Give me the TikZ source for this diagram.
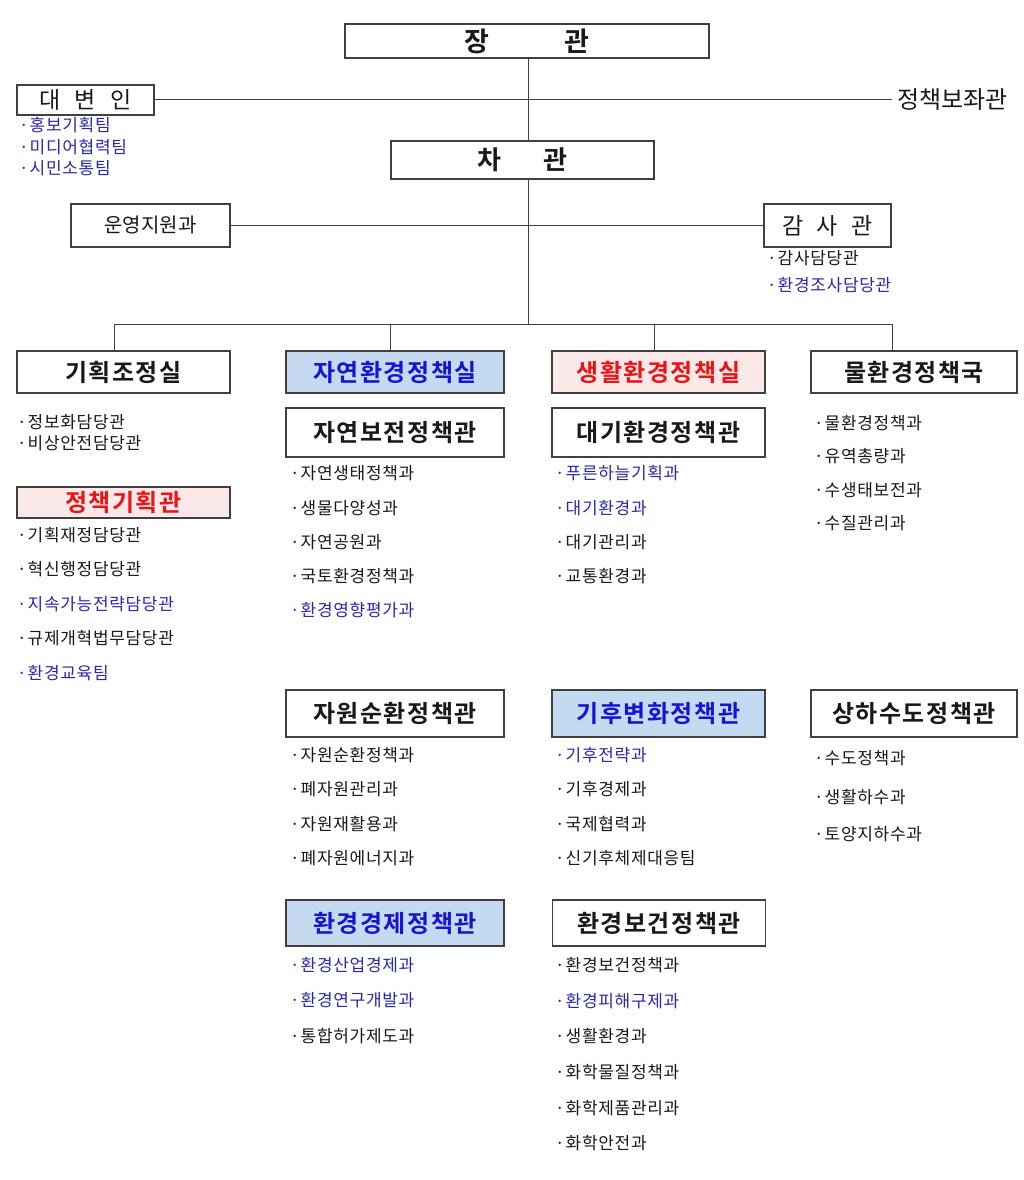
\documentclass[tikz,border=0pt]{standalone}
\usepackage{fontspec}
\setmainfont{Noto Sans CJK KR}[BoldFont={Noto Sans CJK KR Bold}]
\usepackage{tikz}
\definecolor{lineGray}{RGB}{64,64,64}
\definecolor{inkBlack}{RGB}{25,25,25}
\definecolor{titleBlue}{RGB}{20,20,210}
\definecolor{itemBlue}{RGB}{40,40,180}
\definecolor{titleRed}{RGB}{235,20,20}
\definecolor{fillBlue}{RGB}{197,217,241}
\definecolor{fillPink}{RGB}{251,232,232}
\tikzset{
  org box/.style={draw=lineGray,line width=1.2pt,fill=white,inner sep=0pt,text=inkBlack,font=\bfseries\fontsize{24}{26}\selectfont\addfontfeatures{LetterSpace=6}},
  org box blue/.style={org box,fill=fillBlue,text=titleBlue},
  org box red/.style={org box,fill=fillPink,text=titleRed},
  plain box/.style={draw=lineGray,line width=1.2pt,fill=white,inner sep=0pt,text=inkBlack,font=\fontsize{23}{25}\selectfont},
  unit item/.style={anchor=west,inner sep=0pt,text=inkBlack,font=\fontsize{17}{19}\selectfont\addfontfeatures{LetterSpace=4}},
  org line/.style={draw=lineGray,line width=1pt}
}

\begin{document}
\begin{tikzpicture}[x=1pt,y=-1pt]
  \fill[white] (0,0) rectangle (1024,1180);
  \useasboundingbox (0,0) rectangle (1024,1180);

  % top of the chart
  \node[org box,font=\bfseries\fontsize{27}{29}\selectfont,minimum width=364pt,minimum height=34pt] (minister) at (527,41) {장\hspace{75pt}관};
  \node[plain box,minimum width=137pt,minimum height=30pt] (spokes) at (85.5,100) {대\hspace{14pt}변\hspace{14pt}인};
  \node[anchor=west,inner sep=5pt,text=inkBlack,font=\fontsize{24}{26}\selectfont] (aide) at (892,100) {정책보좌관};
  \node[org box,font=\bfseries\fontsize{26}{28}\selectfont,minimum width=263pt,minimum height=38pt] (vice) at (522.5,160) {차\hspace{42pt}관};
  \node[plain box,font=\fontsize{20}{22}\selectfont,minimum width=159pt,minimum height=43pt] (support) at (150.5,225.5) {운영지원과};
  \node[plain box,minimum width=127pt,minimum height=43pt] (audit) at (827.5,225.5) {감\hspace{13pt}사\hspace{13pt}관};

  % offices
  \node[org box,minimum width=213pt,minimum height=42pt] (planning) at (123.5,372) {기획조정실};
  \node[org box blue,minimum width=218pt,minimum height=42pt] (nature) at (395,372) {자연환경정책실};
  \node[org box red,minimum width=213pt,minimum height=42pt] (living) at (658.5,372) {생활환경정책실};
  \node[org box,minimum width=206pt,minimum height=42pt] (water) at (914,372) {물환경정책국};

  \node[org box red,minimum width=213pt,minimum height=31pt] (policyplan) at (123.5,502.5) {정책기획관};
  \node[org box,minimum width=218pt,minimum height=49pt] (conserve) at (395,432.5) {자연보전정책관};
  \node[org box,minimum width=213pt,minimum height=49pt] (air) at (658.5,432.5) {대기환경정책관};
  \node[org box,minimum width=218pt,minimum height=47pt] (resource) at (395,713.5) {자원순환정책관};
  \node[org box blue,minimum width=213pt,minimum height=47pt] (climate) at (658.5,713.5) {기후변화정책관};
  \node[org box,minimum width=206pt,minimum height=47pt] (sewer) at (914,713.5) {상하수도정책관};
  \node[org box blue,minimum width=218pt,minimum height=46pt] (economy) at (395,923) {환경경제정책관};
  \node[org box,minimum width=213pt,minimum height=46pt] (health) at (659,923) {환경보건정책관};

  % connectors
  \coordinate (bus) at (528,324);
  \draw[org line] (minister.south -| bus) -- (vice.north -| bus);
  \draw[org line] (vice.south -| bus) -- (bus);
  \draw[org line] (spokes.east) -- (aide.west);
  \draw[org line] (support.east) -- (audit.west);
  \coordinate (drop1) at (114,324);
  \coordinate (drop2) at (390,324);
  \coordinate (drop3) at (654,324);
  \coordinate (drop4) at (892,324);
  \draw[org line] (drop1) -- (drop4);
  \draw[org line] (drop1) -- (drop1 |- planning.north);
  \draw[org line] (drop2) -- (drop2 |- nature.north);
  \draw[org line] (drop3) -- (drop3 |- living.north);
  \draw[org line] (drop4) -- (drop4 |- water.north);

  % unit lists
  \foreach \y/\c/\t [count=\i] in {125/itemBlue/홍보기획팀,147/itemBlue/미디어협력팀,168/itemBlue/시민소통팀}
    \node[unit item,text=\c] (spk\i) at (19,\y) {·\hspace{1pt}\t};
  \foreach \y/\c/\t [count=\i] in {258/inkBlack/감사담당관,285/itemBlue/환경조사담당관}
    \node[unit item,text=\c] (aud\i) at (767,\y) {·\hspace{1pt}\t};
  \foreach \y/\c/\t [count=\i] in {422/inkBlack/정보화담당관,443/inkBlack/비상안전담당관}
    \node[unit item,text=\c] (pln\i) at (17,\y) {·\hspace{1pt}\t};
  \foreach \y/\c/\t [count=\i] in {535/inkBlack/기획재정담당관,569/inkBlack/혁신행정담당관,604/itemBlue/지속가능전략담당관,638/inkBlack/규제개혁법무담당관,673/itemBlue/환경교육팀}
    \node[unit item,text=\c] (pol\i) at (17,\y) {·\hspace{1pt}\t};
  \foreach \y/\c/\t [count=\i] in {473/inkBlack/자연생태정책과,508/inkBlack/생물다양성과,542/inkBlack/자연공원과,576/inkBlack/국토환경정책과,610/itemBlue/환경영향평가과}
    \node[unit item,text=\c] (con\i) at (290,\y) {·\hspace{1pt}\t};
  \foreach \y/\c/\t [count=\i] in {473/itemBlue/푸른하늘기획과,508/itemBlue/대기환경과,542/inkBlack/대기관리과,576/inkBlack/교통환경과}
    \node[unit item,text=\c] (air\i) at (555,\y) {·\hspace{1pt}\t};
  \foreach \y/\c/\t [count=\i] in {423/inkBlack/물환경정책과,456/inkBlack/유역총량과,490/inkBlack/수생태보전과,523/inkBlack/수질관리과}
    \node[unit item,text=\c] (wat\i) at (814,\y) {·\hspace{1pt}\t};
  \foreach \y/\c/\t [count=\i] in {755/inkBlack/자원순환정책과,789/inkBlack/폐자원관리과,824/inkBlack/자원재활용과,858/inkBlack/폐자원에너지과}
    \node[unit item,text=\c] (res\i) at (290,\y) {·\hspace{1pt}\t};
  \foreach \y/\c/\t [count=\i] in {755/itemBlue/기후전략과,789/inkBlack/기후경제과,824/inkBlack/국제협력과,858/inkBlack/신기후체제대응팀}
    \node[unit item,text=\c] (cli\i) at (555,\y) {·\hspace{1pt}\t};
  \foreach \y/\c/\t [count=\i] in {758/inkBlack/수도정책과,797/inkBlack/생활하수과,834/inkBlack/토양지하수과}
    \node[unit item,text=\c] (sew\i) at (814,\y) {·\hspace{1pt}\t};
  \foreach \y/\c/\t [count=\i] in {965/itemBlue/환경산업경제과,1000/itemBlue/환경연구개발과,1036/inkBlack/통합허가제도과}
    \node[unit item,text=\c] (eco\i) at (290,\y) {·\hspace{1pt}\t};
  \foreach \y/\c/\t [count=\i] in {965/inkBlack/환경보건정책과,1001/itemBlue/환경피해구제과,1036/inkBlack/생활환경과,1072/inkBlack/화학물질정책과,1108/inkBlack/화학제품관리과,1143/inkBlack/화학안전과}
    \node[unit item,text=\c] (hea\i) at (555,\y) {·\hspace{1pt}\t};
\end{tikzpicture}
\end{document}
